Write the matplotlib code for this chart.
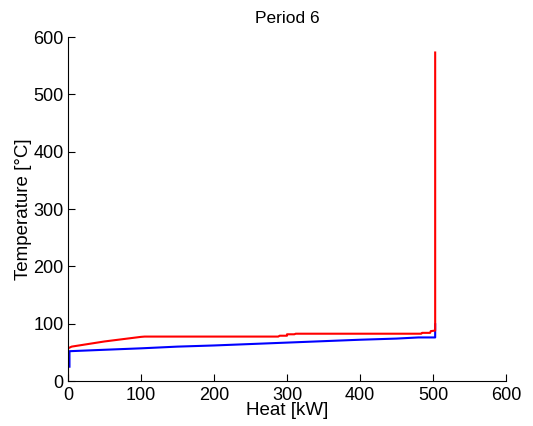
import matplotlib
matplotlib.use('Agg')
import matplotlib.pyplot as plt

# hot composite curve (red)
hot_q = [0, 0, 5, 15, 30, 50, 75, 100, 105, 288, 290, 300, 300, 310, 312, 484, 485, 496, 497, 503, 503]
hot_t = [0, 57, 60, 62, 65, 69, 73, 77, 77.5, 77.5, 79, 79, 81.5, 81.5, 82.5, 82.5, 84, 84, 87, 88, 573]

# cold composite curve (blue)
cold_q = [2, 2, 50, 100, 150, 200, 250, 300, 350, 400, 450, 480, 503, 503]
cold_t = [25, 52, 54.5, 57, 60, 62, 64.5, 67, 69.5, 72, 74, 76, 76, 99]

x_ticks = [0, 100, 200, 300, 400, 500, 600]
y_ticks = [0, 100, 200, 300, 400, 500, 600]

plt.rcParams['font.family'] = ['Liberation Sans', 'DejaVu Sans']

fig = plt.figure(figsize=(5.33, 4.26), dpi=100)
ax = fig.add_axes([0.1276, 0.1056, 0.8217, 0.8075])

ax.plot(cold_q, cold_t, color='#0000ff', lw=1.5)
ax.plot(hot_q, hot_t, color='#ff0000', lw=1.5)

ax.set_xlim(0, 600)
ax.set_ylim(0, 600)
ax.set_xticks(x_ticks)
ax.set_yticks(y_ticks)
ax.tick_params(direction='in', length=5, labelsize=13, width=0.8)
ax.tick_params(axis='x', pad=4)
ax.tick_params(axis='y', pad=3)
ax.spines['top'].set_visible(False)
ax.spines['right'].set_visible(False)

ax.set_title('Period 6', fontsize=12.5, pad=10)
ax.set_xlabel('Heat [kW]', fontsize=13.5, labelpad=-1)
ax.set_ylabel('Temperature [°C]', fontsize=13.5, labelpad=1)

fig.savefig('out.png', dpi=100)
